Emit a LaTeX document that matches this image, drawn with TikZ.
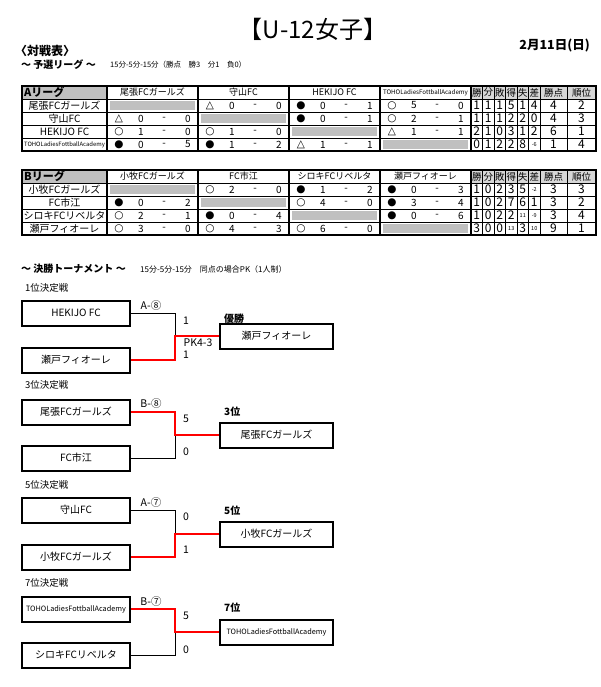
\documentclass[tikz,border=0pt]{standalone}
\usepackage{fontspec}
\setmainfont{Noto Sans CJK JP}
\newfontfamily\symfont{DejaVu Sans}
\definecolor{cellgray}{RGB}{192,192,192}
\definecolor{headgray}{RGB}{215,215,215}
\newcommand{\tinynum}[1]{{\fontsize{5.5}{5.5}\selectfont #1}}
\tikzstyle{cell} = [inner sep=0pt, font=\fontsize{10}{10}\selectfont]
\tikzstyle{resmark} = [inner sep=0pt, font=\symfont\fontsize{10.5}{10.5}\selectfont]
\tikzstyle{rowname} = [inner sep=0pt, font=\fontsize{10}{10}\selectfont]
\tikzstyle{colname} = [inner sep=0pt, font=\fontsize{9}{9}\selectfont]
\tikzstyle{stat} = [inner sep=0pt, font=\fontsize{12}{12}\selectfont]
\tikzstyle{team} = [rectangle, draw=black, line width=2pt, minimum width=108pt, minimum height=25pt, inner sep=1pt, font=\fontsize{10}{10}\selectfont]
\tikzstyle{final} = [team, minimum width=113pt]
\tikzstyle{lbl} = [inner sep=0pt, font=\fontsize{10.5}{10.5}\selectfont]
\tikzstyle{head} = [inner sep=0pt, anchor=west, font=\bfseries\fontsize{10}{10}\selectfont]
\tikzstyle{loser} = [draw=black, line width=0.9pt]
\tikzstyle{winner} = [draw=red, line width=2.6pt]

\begin{document}
\begin{tikzpicture}[x=1pt, y=-1pt]
\useasboundingbox (0,0) rectangle (600,687);

\node (title) [inner sep=0pt, font=\fontsize{24}{24}\selectfont] at (313,29) {【U-12女子】};
\node (taisen) [head, font=\bfseries\fontsize{12}{12}\selectfont] at (15,51) {〈対戦表〉};
\node (yosen) [head, font=\bfseries\fontsize{10}{10}\selectfont] at (21,65) {～ 予選リーグ ～};
\node (rule1) [inner sep=0pt, anchor=west, font=\fontsize{7.5}{7.5}\selectfont] at (110,65) {15分-5分-15分（勝点　勝3　分1　負0）};
\node (date) [inner sep=0pt, anchor=east, font=\bfseries\fontsize{12.5}{12.5}\selectfont] at (590,46) {2月11日(日)};

% league tables
\foreach \oy in {0,84} {
  \begin{scope}[yshift=-\oy pt]
  \fill[cellgray] (22,86) rectangle (107,99);
  \foreach \i in {1,...,4}
    \fill[cellgray] ({107+91*(\i-1)+3},{99+13*(\i-1)+2}) rectangle ({107+91*\i-3},{99+13*\i-2});
  \fill[headgray] (471,86) rectangle (596,99);
  \foreach \y in {99,112,125,138}
    \draw[line width=0.8pt] (22,\y) -- (596,\y);
  \foreach \x in {107,198,289,380,471}
    \draw[line width=1.3pt] (\x,86) -- (\x,151);
  \foreach \x in {482.5,494,505.5,517,528.5,540,567}
    \draw[line width=0.8pt] (\x,86) -- (\x,151);
  \draw[line width=1.4pt] (22,86) rectangle (596,151);
  \foreach \t [count=\c] in {勝,分,敗,得,失,差,勝点,順位} {
    \pgfmathsetmacro\sx{\c<7 ? 476.75+11.5*(\c-1) : (\c==7 ? 553.5 : 581.5)}
    \node (h\oy\c) [colname, font=\fontsize{9.5}{9.5}\selectfont] at (\sx,92.5) {\t};
  }
  \end{scope}
}

% A league
\node (aname) [head, font=\bfseries\fontsize{11}{11}\selectfont] at (24,92.5) {Aリーグ};
\foreach \c/\t in {1/尾張FCガールズ, 2/守山FC, 3/HEKIJO FC}
  \node (ac\c) [colname] at ({107+91*\c-45.5},92.5) {\t};
\node (ac4) [colname, font=\fontsize{6.2}{6.2}\selectfont] at (425.5,92.5) {TOHOLadiesFottballAcademy};
\foreach \r/\t in {1/尾張FCガールズ, 2/守山FC, 3/HEKIJO FC}
  \node (ar\r) [rowname] at (64.5,{92.5+13*\r}) {\t};
\node (ar4) [rowname, font=\fontsize{5.9}{5.9}\selectfont] at (64.5,144.5) {TOHOLadiesFottballAcademy};
\foreach \r/\c/\s/\a/\b in {1/2/△/0/0, 1/3/●/0/1, 1/4/○/5/0,
    2/1/△/0/0, 2/3/●/0/1, 2/4/○/2/1,
    3/1/○/1/0, 3/2/○/1/0, 3/4/△/1/1,
    4/1/●/0/5, 4/2/●/1/2, 4/3/△/1/1} {
  \node (as\r\c) [resmark] at ({107+91*(\c-1)+12},{92.5+13*\r}) {\s};
  \node (aa\r\c) [cell] at ({107+91*(\c-1)+34},{92.5+13*\r}) {\a};
  \node (ad\r\c) [cell] at ({107+91*(\c-1)+57},{92.5+13*\r}) {-};
  \node (ab\r\c) [cell] at ({107+91*(\c-1)+81},{92.5+13*\r}) {\b};
}
\foreach \r/\vals in {1/{1,1,1,5,1,4,4,2}, 2/{1,1,1,2,2,0,4,3},
    3/{2,1,0,3,1,2,6,1}, 4/{0,1,2,2,8,\tinynum{-6},1,4}} {
  \foreach \v [count=\c] in \vals {
    \pgfmathsetmacro\sx{\c<7 ? 476.75+11.5*(\c-1) : (\c==7 ? 553.5 : 581.5)}
    \node (at\r\c) [stat] at (\sx,{92.5+13*\r}) {\v};
  }
}

% B league
\node (bname) [head, font=\bfseries\fontsize{11}{11}\selectfont] at (24,176.5) {Bリーグ};
\foreach \c/\t in {1/小牧FCガールズ, 2/FC市江, 3/シロキFCリベルタ, 4/瀬戸フィオーレ}
  \node (bc\c) [colname] at ({107+91*\c-45.5},176.5) {\t};
\foreach \r/\t in {1/小牧FCガールズ, 2/FC市江, 3/シロキFCリベルタ, 4/瀬戸フィオーレ}
  \node (br\r) [rowname] at (64.5,{176.5+13*\r}) {\t};
\foreach \r/\c/\s/\a/\b in {1/2/○/2/0, 1/3/●/1/2, 1/4/●/0/3,
    2/1/●/0/2, 2/3/○/4/0, 2/4/●/3/4,
    3/1/○/2/1, 3/2/●/0/4, 3/4/●/0/6,
    4/1/○/3/0, 4/2/○/4/3, 4/3/○/6/0} {
  \node (bs\r\c) [resmark] at ({107+91*(\c-1)+12},{176.5+13*\r}) {\s};
  \node (ba\r\c) [cell] at ({107+91*(\c-1)+34},{176.5+13*\r}) {\a};
  \node (bd\r\c) [cell] at ({107+91*(\c-1)+57},{176.5+13*\r}) {-};
  \node (bb\r\c) [cell] at ({107+91*(\c-1)+81},{176.5+13*\r}) {\b};
}
\foreach \r/\vals in {1/{1,0,2,3,5,\tinynum{-2},3,3}, 2/{1,0,2,7,6,1,3,2},
    3/{1,0,2,2,\tinynum{11},\tinynum{-9},3,4}, 4/{3,0,0,\tinynum{13},3,\tinynum{10},9,1}} {
  \foreach \v [count=\c] in \vals {
    \pgfmathsetmacro\sx{\c<7 ? 476.75+11.5*(\c-1) : (\c==7 ? 553.5 : 581.5)}
    \node (bt\r\c) [stat] at (\sx,{176.5+13*\r}) {\v};
  }
}

% tournament
\node (kessho) [head] at (21,269) {～ 決勝トーナメント ～};
\node (rule2) [inner sep=0pt, anchor=west, font=\fontsize{8}{8}\selectfont] at (140,269) {15分-5分-15分　同点の場合PK（1人制）};

% 1st place
\node (k1) [inner sep=0pt, anchor=west, font=\fontsize{9.5}{9.5}\selectfont] at (25,288) {1位決定戦};
\node (hekijo) [team] at (76,313) {HEKIJO FC};
\node (seto) [team] at (76,360) {瀬戸フィオーレ};
\node (champ) [final] at (276.5,336) {瀬戸フィオーレ};
\coordinate (m1) at (175,336);
\draw [loser] (hekijo.east) -| (m1);
\draw [winner] (seto.east) -| (m1) -- (champ.west);
\node (g1) [lbl] at (151,306) {A-⑧};
\node (s1a) [lbl] at (186,321) {1};
\node (pk) [lbl] at (198,343) {PK4-3};
\node (s1b) [lbl] at (186,355) {1};
\node (p1) [head] at (224,319) {優勝};

% 3rd place
\node (k3) [inner sep=0pt, anchor=west, font=\fontsize{9.5}{9.5}\selectfont] at (25,385) {3位決定戦};
\node (owari) [team] at (76,412) {尾張FCガールズ};
\node (ichie) [team] at (76,458) {FC市江};
\node (third) [final] at (276.5,435) {尾張FCガールズ};
\coordinate (m3) at (175,435);
\draw [loser] (ichie.east) -| (m3);
\draw [winner] (owari.east) -| (m3) -- (third.west);
\node (g3) [lbl] at (151,404) {B-⑧};
\node (s3a) [lbl] at (186,419) {5};
\node (s3b) [lbl] at (186,452) {0};
\node (p3) [head] at (224,412) {3位};

% 5th place
\node (k5) [inner sep=0pt, anchor=west, font=\fontsize{9.5}{9.5}\selectfont] at (25,485) {5位決定戦};
\node (moriyama) [team] at (76,510) {守山FC};
\node (komaki) [team] at (76,557) {小牧FCガールズ};
\node (fifth) [final] at (276.5,534) {小牧FCガールズ};
\coordinate (m5) at (175,534);
\draw [loser] (moriyama.east) -| (m5);
\draw [winner] (komaki.east) -| (m5) -- (fifth.west);
\node (g5) [lbl] at (151,503) {A-⑦};
\node (s5a) [lbl] at (186,517) {0};
\node (s5b) [lbl] at (186,550) {1};
\node (p5) [head] at (224,511) {5位};

% 7th place
\node (k7) [inner sep=0pt, anchor=west, font=\fontsize{9.5}{9.5}\selectfont] at (25,583) {7位決定戦};
\node (toho) [team, font=\fontsize{7.3}{7.3}\selectfont] at (76,609) {TOHOLadiesFottballAcademy};
\node (shiroki) [team] at (76,655) {シロキFCリベルタ};
\node (seventh) [final, font=\fontsize{7.3}{7.3}\selectfont] at (276.5,632) {TOHOLadiesFottballAcademy};
\coordinate (m7) at (175,632);
\draw [loser] (shiroki.east) -| (m7);
\draw [winner] (toho.east) -| (m7) -- (seventh.west);
\node (g7) [lbl] at (151,602) {B-⑦};
\node (s7a) [lbl] at (186,616) {5};
\node (s7b) [lbl] at (186,650) {0};
\node (p7) [head] at (224,608) {7位};
\end{tikzpicture}
\end{document}
